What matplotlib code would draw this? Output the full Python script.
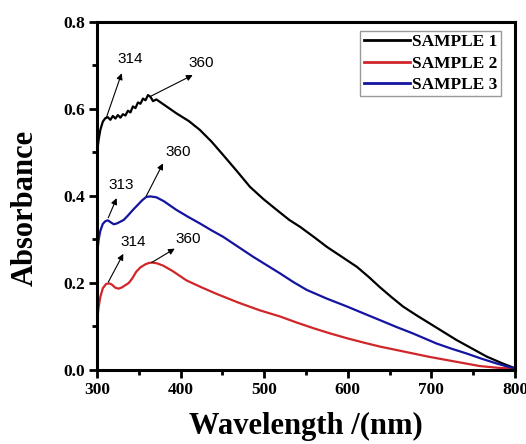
import matplotlib
matplotlib.use("Agg")
import matplotlib.pyplot as plt
from matplotlib.ticker import MultipleLocator
from matplotlib.font_manager import FontProperties

# Absorption spectra (wavelength in nm, absorbance)
wl_s1 = [300, 302, 304, 307, 310, 313, 316, 319, 322, 325, 328, 331, 334, 337,
         340, 343, 346, 349, 352, 355, 358, 361, 364, 367, 371, 380, 395, 410,
         423, 437, 451, 467, 483, 499, 515, 530, 543, 560, 575, 593, 611, 625,
         638, 652, 666, 682, 698, 714, 730, 748, 766, 784, 800]
abs_s1 = [0.498, 0.530, 0.552, 0.571, 0.579, 0.581, 0.575, 0.584, 0.578, 0.586,
          0.580, 0.588, 0.585, 0.596, 0.592, 0.606, 0.602, 0.615, 0.612, 0.624,
          0.620, 0.632, 0.628, 0.618, 0.622, 0.610, 0.590, 0.572, 0.552, 0.525,
          0.494, 0.458, 0.421, 0.393, 0.368, 0.345, 0.329, 0.305, 0.283, 0.260,
          0.237, 0.214, 0.191, 0.168, 0.146, 0.126, 0.107, 0.088, 0.069, 0.050,
          0.031, 0.016, 0.004]

wl_s2 = [300, 302, 304, 307, 311, 315, 318, 322, 326, 330, 334, 338, 342, 347,
         352, 358, 362, 366, 372, 379, 390, 407, 425, 443, 469, 495, 519, 539,
         559, 579, 599, 619, 638, 658, 678, 698, 718, 738, 758, 780, 800]
abs_s2 = [0.110, 0.145, 0.168, 0.188, 0.198, 0.199, 0.196, 0.189, 0.187, 0.190,
          0.195, 0.200, 0.210, 0.226, 0.236, 0.243, 0.246, 0.247, 0.245, 0.240,
          0.228, 0.206, 0.190, 0.175, 0.155, 0.137, 0.123, 0.109, 0.096, 0.084,
          0.073, 0.063, 0.054, 0.046, 0.038, 0.030, 0.023, 0.016, 0.009, 0.005,
          0.003]

wl_s3 = [300, 302, 304, 307, 310, 313, 316, 320, 324, 328, 332, 337, 343, 349,
         354, 359, 364, 371, 380, 395, 409, 423, 437, 451, 469, 487, 503, 519,
         535, 551, 575, 599, 619, 638, 658, 678, 706, 724, 742, 760, 778, 800]
abs_s3 = [0.262, 0.300, 0.320, 0.336, 0.342, 0.344, 0.340, 0.335, 0.337, 0.341,
          0.345, 0.355, 0.368, 0.380, 0.390, 0.398, 0.399, 0.397, 0.388, 0.368,
          0.352, 0.337, 0.321, 0.306, 0.283, 0.260, 0.241, 0.222, 0.202, 0.184,
          0.164, 0.146, 0.130, 0.115, 0.099, 0.084, 0.061, 0.049, 0.038, 0.026,
          0.015, 0.003]

series_labels = ["SAMPLE 1", "SAMPLE 2", "SAMPLE 3"]
series_colors = ["#000000", "#d0262a", "#1414a0"]

# Peak callouts: label, start on the curve, arrow tip, text centre
peak_labels = ["314", "360", "313", "360", "314", "360"]
peak_xy = [(310.8, 0.578), (363, 0.628), (313.5, 0.350), (359, 0.400),
           (313.5, 0.202), (365.5, 0.247)]
tip_xy = [(329.5, 0.682), (414.5, 0.678), (323.5, 0.395), (379, 0.475),
          (331.5, 0.267), (393, 0.279)]
text_xy = [(339.5, 0.715), (425, 0.705), (329.5, 0.425), (397, 0.500),
           (343.5, 0.294), (409, 0.302)]

serif_bold = dict(family=["Liberation Serif", "DejaVu Serif"], weight="bold")

fig = plt.figure(figsize=(5.26, 4.44), dpi=100)
ax = fig.add_axes([0.1844, 0.1667, 0.7946, 0.7838])

for wl, ab, lab, col in zip([wl_s1, wl_s2, wl_s3], [abs_s1, abs_s2, abs_s3],
                            series_labels, series_colors):
    ax.plot(wl, ab, color=col, lw=1.6, label=lab, solid_joinstyle="round")

for lab, p, t, tx in zip(peak_labels, peak_xy, tip_xy, text_xy):
    ax.annotate("", xy=t, xytext=p,
                arrowprops=dict(arrowstyle="-|>", color="black", lw=0.8,
                                mutation_scale=9, shrinkA=0, shrinkB=0))
    ax.text(tx[0], tx[1], lab, ha="center", va="center", fontsize=11,
            family=["Liberation Sans", "DejaVu Sans"])

ax.set_xlim(300, 800)
ax.set_ylim(0.0, 0.8)
ax.xaxis.set_major_locator(MultipleLocator(100))
ax.xaxis.set_minor_locator(MultipleLocator(50))
ax.yaxis.set_major_locator(MultipleLocator(0.2))
ax.yaxis.set_minor_locator(MultipleLocator(0.1))
ax.yaxis.set_major_formatter(plt.FuncFormatter(lambda v, _: f"{v:.1f}"))

for s in ax.spines.values():
    s.set_linewidth(2.2)
ax.tick_params(which="major", direction="out", length=6, width=2.0, pad=2.5)
ax.tick_params(which="minor", direction="out", length=3.5, width=2.0)
tick_font = FontProperties(size=12.5, **serif_bold)
for t in ax.get_xticklabels() + ax.get_yticklabels():
    t.set_fontproperties(tick_font)

ax.set_xlabel("Wavelength /(nm)", fontsize=22, labelpad=10, **serif_bold)
ax.set_ylabel("Absorbance", fontsize=22, **serif_bold)
ax.yaxis.set_label_coords(-0.138, 0.467)

leg = ax.legend(loc="upper right", bbox_to_anchor=(0.975, 0.985),
                prop=FontProperties(size=12.5, **serif_bold),
                frameon=True, fancybox=False, handlelength=2.7, handletextpad=0.1,
                borderpad=0.2, labelspacing=0.3, borderaxespad=0.2)
leg.get_frame().set_edgecolor("#808080")
leg.get_frame().set_linewidth(1.0)
for h in leg.get_lines():
    h.set_linewidth(2.0)

fig.savefig("out.png", dpi=100)
